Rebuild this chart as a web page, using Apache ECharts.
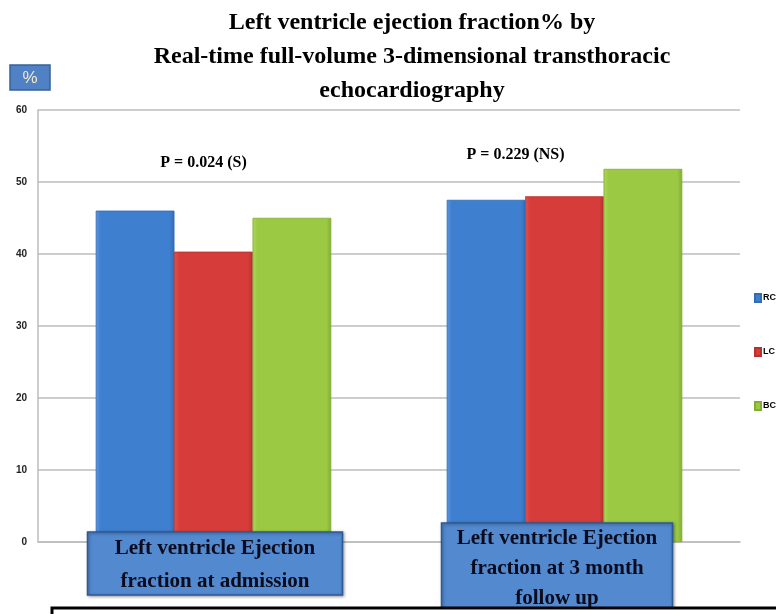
<!DOCTYPE html>
<html>
<head>
<meta charset="utf-8">
<title>LVEF by RT 3D TTE</title>
<script src="https://cdn.jsdelivr.net/npm/echarts@6/dist/echarts.min.js"></script>
<style>
  html, body { margin: 0; padding: 0; background: #ffffff; }
  #chart { width: 776px; height: 614px; }
</style>
</head>
<body>
<div id="chart"></div>
<script>
// ---- data ----
const chartTitle = 'Left ventricle ejection fraction% by\nReal-time full-volume 3-dimensional transthoracic\nechocardiography';
const categories = [
  'Left ventricle Ejection\nfraction at admission',
  'Left ventricle Ejection\nfraction at 3 month\nfollow up'
];
const seriesNames = ['RC', 'LC', 'BC'];
const rcValues = [46.0, 47.5];
const lcValues = [40.3, 48.0];
const bcValues = [45.0, 51.8];
const pValueLabels = ['P = 0.024 (S)', 'P = 0.229 (NS)'];
const yAxisMin = 0;
const yAxisMax = 60;
const yAxisStep = 10;

// ---- styling / layout ----
const serif = '"Liberation Serif", "Times New Roman", serif';
const barColors = [
  ['#5a95e0', '#3f7fd0', '#346cb4'],
  ['#e2524e', '#d63d3a', '#b53230'],
  ['#b0d85c', '#9bc944', '#83ad36']
];
const categoryBoxes = [
  { dx: 1.5, width: 255, top: 532, height: 63, lineHeight: 33, textTop: 532 },
  { dx: -7.5, width: 231, top: 523, height: 100, lineHeight: 30, textTop: 524 }
];
const pLabelPos = [
  { dx: -10, y: 163 },
  { dx: -49, y: 155 }
];

function barStyle(c) {
  return {
    color: new echarts.graphic.LinearGradient(0, 0, 1, 0, [
      { offset: 0, color: c[0] },
      { offset: 0.06, color: c[1] },
      { offset: 0.94, color: c[1] },
      { offset: 1, color: c[2] }
    ]),
    borderColor: c[2],
    borderWidth: 0.5
  };
}

const chart = echarts.init(document.getElementById('chart'), null, { renderer: 'canvas' });

const valueSets = [rcValues, lcValues, bcValues];

chart.setOption({
  animation: false,
  backgroundColor: '#ffffff',
  legend: {
    orient: 'vertical',
    left: 749,
    top: 288,
    itemWidth: 6,
    itemHeight: 8,
    itemGap: 44,
    icon: 'rect',
    data: seriesNames,
    textStyle: {
      fontFamily: '"Liberation Sans", Arial, sans-serif',
      fontWeight: 'bold',
      fontSize: 9,
      color: '#000000',
      padding: [0, 0, 0, -3]
    }
  },
  grid: { left: 38, right: 36, top: 110, bottom: 72, containLabel: false },
  xAxis: {
    type: 'category',
    data: categories,
    axisLine: { lineStyle: { color: '#bcbcbc', width: 1.5 } },
    axisTick: { show: false },
    axisLabel: { show: false },
    splitLine: { show: false }
  },
  yAxis: {
    type: 'value',
    min: yAxisMin,
    max: yAxisMax,
    interval: yAxisStep,
    axisLine: { show: true, lineStyle: { color: '#bcbcbc', width: 1.5 } },
    axisTick: { show: false },
    axisLabel: {
      margin: 11,
      fontFamily: '"Liberation Sans", Arial, sans-serif',
      fontWeight: 'bold',
      fontSize: 10,
      color: '#222222'
    },
    splitLine: { lineStyle: { color: '#bcbcbc', width: 1.5 } }
  },
  series: seriesNames.map((name, i) => ({
    name: name,
    type: 'bar',
    data: valueSets[i],
    barGap: '0%',
    barCategoryGap: '33%',
    itemStyle: barStyle(barColors[i]),
    emphasis: { disabled: true }
  }))
});

// Title, category name boxes, p-value notes and page decorations.
const graphics = [];

graphics.push({
  type: 'text',
  z: 50,
  x: 412,
  y: 6,
  style: {
    text: chartTitle,
    fontFamily: serif,
    fontWeight: 'bold',
    fontSize: 24,
    lineHeight: 34,
    fill: '#000000',
    align: 'center',
    verticalAlign: 'top'
  }
});

categories.forEach((cat, i) => {
  const cx = chart.convertToPixel({ xAxisIndex: 0 }, cat);
  const b = categoryBoxes[i];
  const x0 = cx + b.dx - b.width / 2;
  graphics.push({
    type: 'rect',
    z: 100,
    shape: { x: x0, y: b.top, width: b.width, height: b.height },
    style: {
      fill: '#5289cf',
      stroke: '#2c5a94',
      lineWidth: 1.5,
      shadowBlur: 3,
      shadowColor: 'rgba(0,0,0,0.35)',
      shadowOffsetX: 1,
      shadowOffsetY: 1
    }
  });
  graphics.push({
    type: 'text',
    z: 101,
    x: cx + b.dx,
    y: b.textTop,
    style: {
      text: cat,
      fontFamily: serif,
      fontWeight: 'bold',
      fontSize: 21,
      lineHeight: b.lineHeight,
      fill: '#0b0b1e',
      align: 'center',
      verticalAlign: 'top'
    }
  });
  const p = pLabelPos[i];
  graphics.push({
    type: 'text',
    z: 50,
    x: cx + p.dx,
    y: p.y,
    style: {
      text: pValueLabels[i],
      fontFamily: serif,
      fontWeight: 'bold',
      fontSize: 16,
      fill: '#000000',
      align: 'center',
      verticalAlign: 'middle'
    }
  });
});

// "%" unit badge
graphics.push({
  type: 'rect',
  z: 50,
  shape: { x: 10, y: 65, width: 40, height: 25 },
  style: { fill: '#4f81c4', stroke: '#35619a', lineWidth: 1.5 }
});
graphics.push({
  type: 'text',
  z: 51,
  x: 30,
  y: 78,
  style: {
    text: '%',
    fontFamily: '"Liberation Sans", Arial, sans-serif',
    fontSize: 17,
    fill: '#f6e8cc',
    align: 'center',
    verticalAlign: 'middle'
  }
});

// frame line along the bottom edge
graphics.push({
  type: 'rect',
  z: 120,
  shape: { x: 52, y: 608, width: 760, height: 30 },
  style: { fill: '#ffffff', stroke: '#000000', lineWidth: 3 }
});

chart.setOption({ graphic: graphics });
</script>
</body>
</html>
